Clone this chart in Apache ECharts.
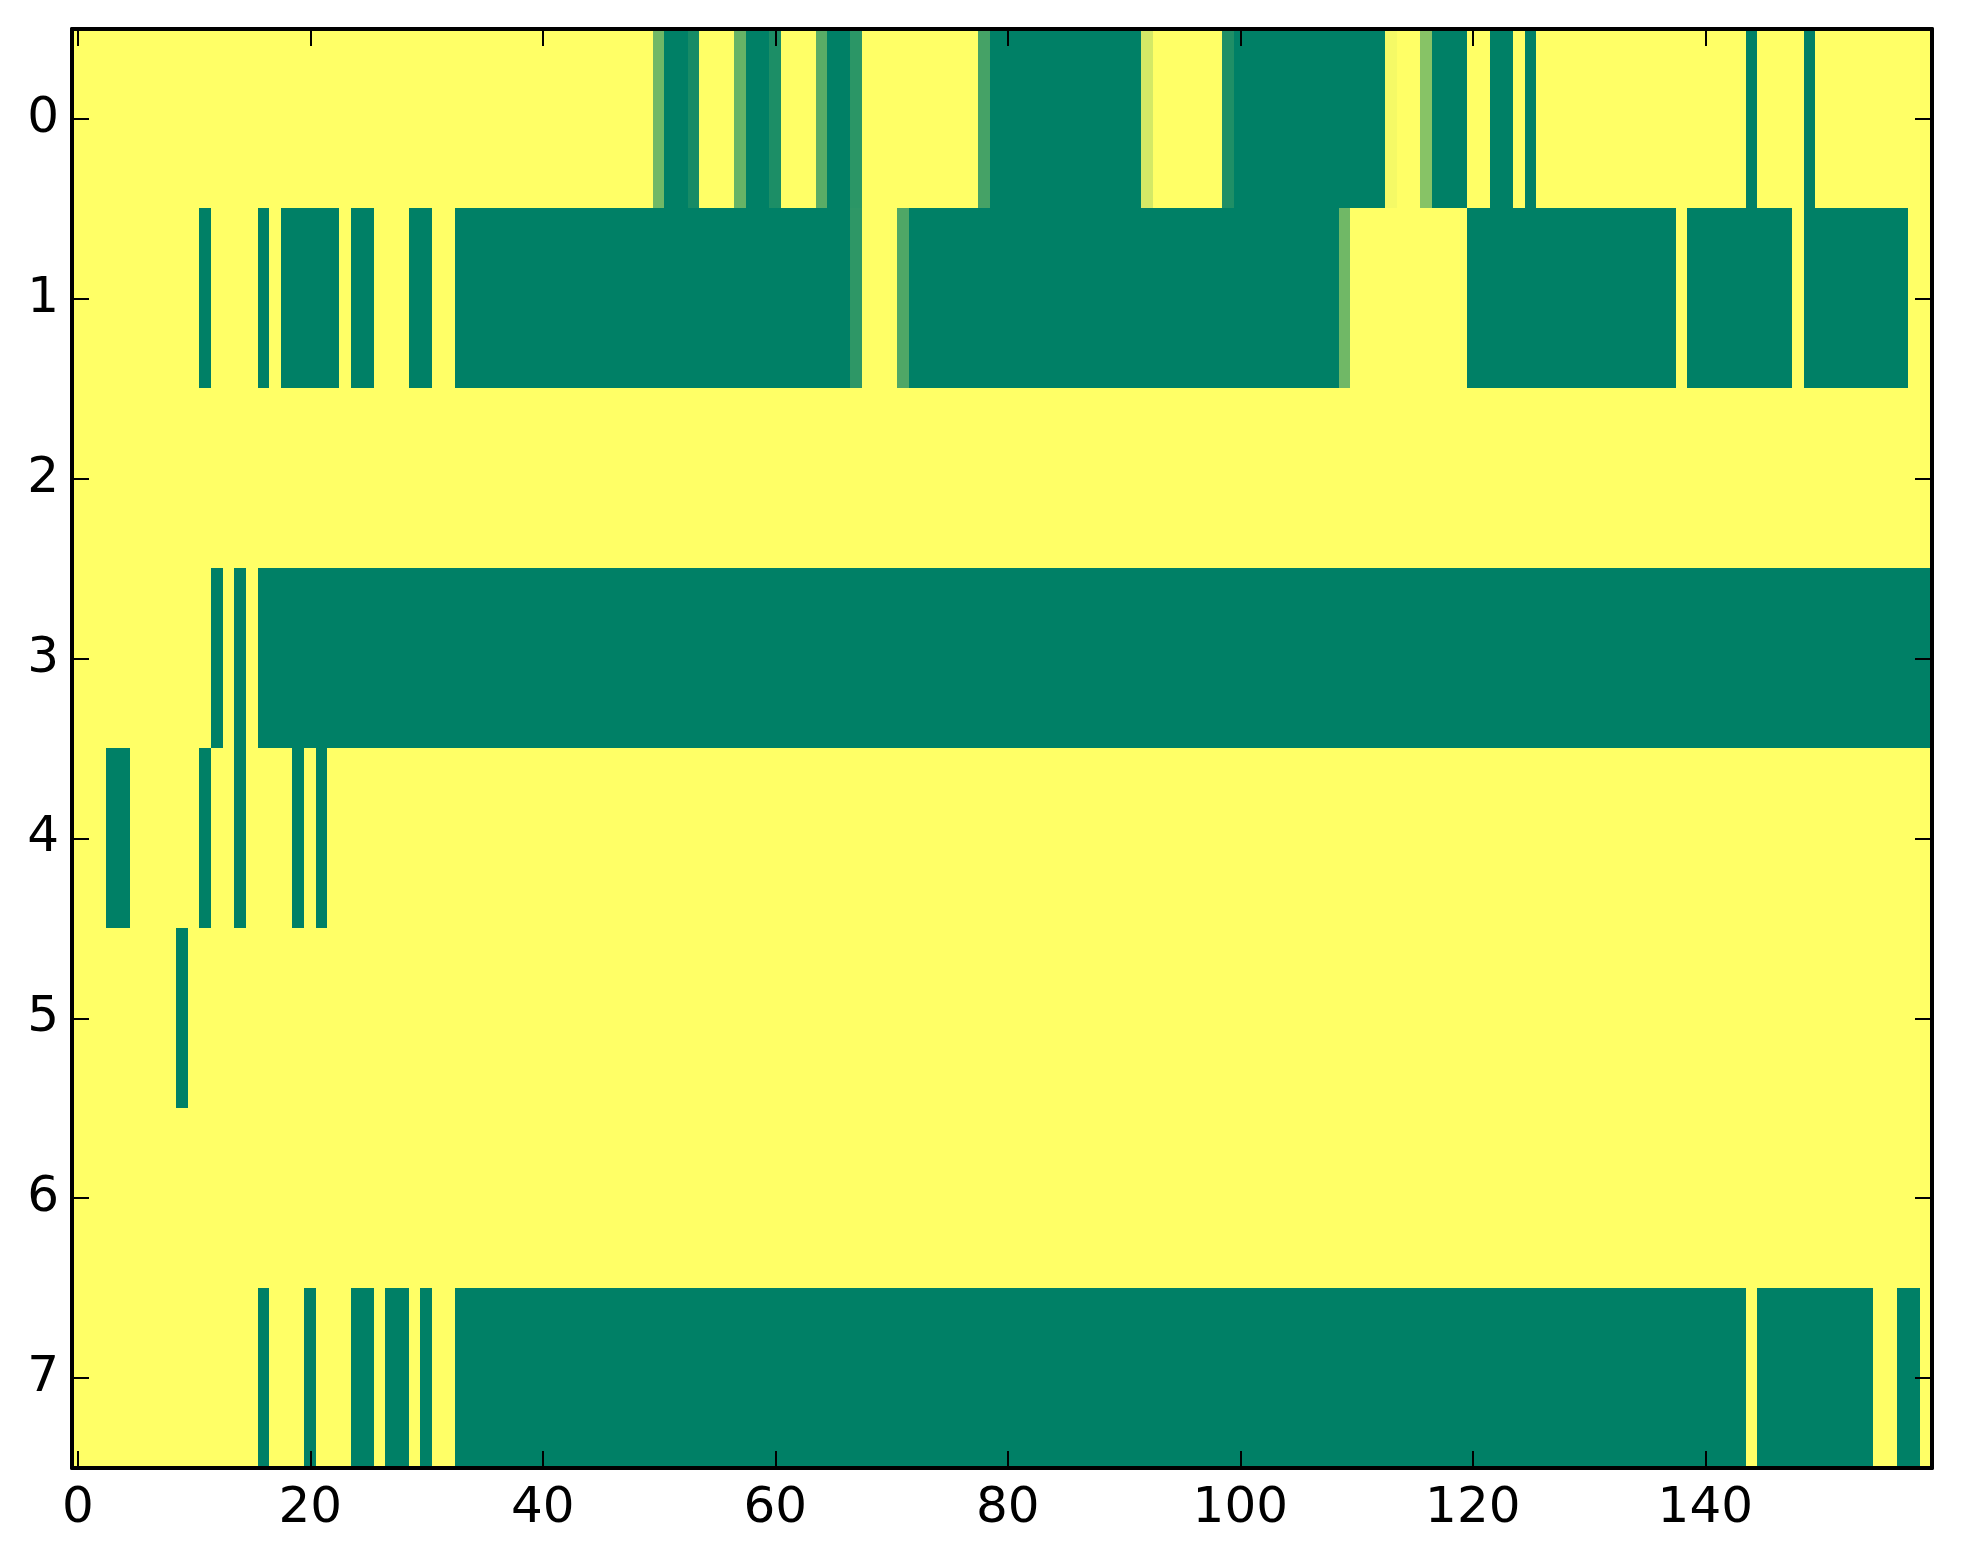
<!DOCTYPE html>
<html><head><meta charset="utf-8">
<script src="https://cdn.jsdelivr.net/npm/echarts@6/dist/echarts.min.js"></script>
<style>html,body{margin:0;padding:0;background:#fff}#c{width:1963px;height:1564px}</style>
</head><body><div id="c"></div>
<script>
// column indices 0..159 and row labels 0..7
const xCategories = Array.from({length: 160}, (_, i) => String(i));
const yCategories = ['0', '1', '2', '3', '4', '5', '6', '7'];

const row0 = [
  1,1,1,1,1,1,1,1,1,1,1,1,1,1,1,1,1,1,1,1,
  1,1,1,1,1,1,1,1,1,1,1,1,1,1,1,1,1,1,1,1,
  1,1,1,1,1,1,1,1,1,1,0.44,0,0,0.09,1,1,1,0.40,0,0,
  0.11,1,1,1,0.35,0,0,0.17,1,1,1,1,1,1,1,1,1,1,0.27,0,
  0,0,0,0,0,0,0,0,0,0,0,0,0.83,1,1,1,1,1,1,0.12,
  0,0,0,0,0,0,0,0,0,0,0,0,0,0.96,1,1,0.53,0,0,0,
  1,1,0,0,1,0,1,1,1,1,1,1,1,1,1,1,1,1,1,1,
  1,1,1,1,0,1,1,1,1,0,1,1,1,1,1,1,1,1,1,1
];
const row1 = [
  1,1,1,1,1,1,1,1,1,1,1,0,1,1,1,1,0,1,0,0,
  0,0,0,1,0,0,1,1,1,0,0,1,1,0,0,0,0,0,0,0,
  0,0,0,0,0,0,0,0,0,0,0,0,0,0,0,0,0,0,0,0,
  0,0,0,0,0,0,0,0.18,1,1,1,0.31,0,0,0,0,0,0,0,0,
  0,0,0,0,0,0,0,0,0,0,0,0,0,0,0,0,0,0,0,0,
  0,0,0,0,0,0,0,0,0,0.44,1,1,1,1,1,1,1,1,1,1,
  0,0,0,0,0,0,0,0,0,0,0,0,0,0,0,0,0,0,1,0,
  0,0,0,0,0,0,0,0,1,0,0,0,0,0,0,0,0,0,1,1
];
const row2 = [
  1,1,1,1,1,1,1,1,1,1,1,1,1,1,1,1,1,1,1,1,
  1,1,1,1,1,1,1,1,1,1,1,1,1,1,1,1,1,1,1,1,
  1,1,1,1,1,1,1,1,1,1,1,1,1,1,1,1,1,1,1,1,
  1,1,1,1,1,1,1,1,1,1,1,1,1,1,1,1,1,1,1,1,
  1,1,1,1,1,1,1,1,1,1,1,1,1,1,1,1,1,1,1,1,
  1,1,1,1,1,1,1,1,1,1,1,1,1,1,1,1,1,1,1,1,
  1,1,1,1,1,1,1,1,1,1,1,1,1,1,1,1,1,1,1,1,
  1,1,1,1,1,1,1,1,1,1,1,1,1,1,1,1,1,1,1,1
];
const row3 = [
  1,1,1,1,1,1,1,1,1,1,1,1,0,1,0,1,0,0,0,0,
  0,0,0,0,0,0,0,0,0,0,0,0,0,0,0,0,0,0,0,0,
  0,0,0,0,0,0,0,0,0,0,0,0,0,0,0,0,0,0,0,0,
  0,0,0,0,0,0,0,0,0,0,0,0,0,0,0,0,0,0,0,0,
  0,0,0,0,0,0,0,0,0,0,0,0,0,0,0,0,0,0,0,0,
  0,0,0,0,0,0,0,0,0,0,0,0,0,0,0,0,0,0,0,0,
  0,0,0,0,0,0,0,0,0,0,0,0,0,0,0,0,0,0,0,0,
  0,0,0,0,0,0,0,0,0,0,0,0,0,0,0,0,0,0,0,0
];
const row4 = [
  1,1,1,0,0,1,1,1,1,1,1,0,1,1,0,1,1,1,1,0,
  1,0,1,1,1,1,1,1,1,1,1,1,1,1,1,1,1,1,1,1,
  1,1,1,1,1,1,1,1,1,1,1,1,1,1,1,1,1,1,1,1,
  1,1,1,1,1,1,1,1,1,1,1,1,1,1,1,1,1,1,1,1,
  1,1,1,1,1,1,1,1,1,1,1,1,1,1,1,1,1,1,1,1,
  1,1,1,1,1,1,1,1,1,1,1,1,1,1,1,1,1,1,1,1,
  1,1,1,1,1,1,1,1,1,1,1,1,1,1,1,1,1,1,1,1,
  1,1,1,1,1,1,1,1,1,1,1,1,1,1,1,1,1,1,1,1
];
const row5 = [
  1,1,1,1,1,1,1,1,1,0,1,1,1,1,1,1,1,1,1,1,
  1,1,1,1,1,1,1,1,1,1,1,1,1,1,1,1,1,1,1,1,
  1,1,1,1,1,1,1,1,1,1,1,1,1,1,1,1,1,1,1,1,
  1,1,1,1,1,1,1,1,1,1,1,1,1,1,1,1,1,1,1,1,
  1,1,1,1,1,1,1,1,1,1,1,1,1,1,1,1,1,1,1,1,
  1,1,1,1,1,1,1,1,1,1,1,1,1,1,1,1,1,1,1,1,
  1,1,1,1,1,1,1,1,1,1,1,1,1,1,1,1,1,1,1,1,
  1,1,1,1,1,1,1,1,1,1,1,1,1,1,1,1,1,1,1,1
];
const row6 = [
  1,1,1,1,1,1,1,1,1,1,1,1,1,1,1,1,1,1,1,1,
  1,1,1,1,1,1,1,1,1,1,1,1,1,1,1,1,1,1,1,1,
  1,1,1,1,1,1,1,1,1,1,1,1,1,1,1,1,1,1,1,1,
  1,1,1,1,1,1,1,1,1,1,1,1,1,1,1,1,1,1,1,1,
  1,1,1,1,1,1,1,1,1,1,1,1,1,1,1,1,1,1,1,1,
  1,1,1,1,1,1,1,1,1,1,1,1,1,1,1,1,1,1,1,1,
  1,1,1,1,1,1,1,1,1,1,1,1,1,1,1,1,1,1,1,1,
  1,1,1,1,1,1,1,1,1,1,1,1,1,1,1,1,1,1,1,1
];
const row7 = [
  1,1,1,1,1,1,1,1,1,1,1,1,1,1,1,1,0,1,1,1,
  0,1,1,1,0,0,1,0,0,1,0,1,1,0,0,0,0,0,0,0,
  0,0,0,0,0,0,0,0,0,0,0,0,0,0,0,0,0,0,0,0,
  0,0,0,0,0,0,0,0,0,0,0,0,0,0,0,0,0,0,0,0,
  0,0,0,0,0,0,0,0,0,0,0,0,0,0,0,0,0,0,0,0,
  0,0,0,0,0,0,0,0,0,0,0,0,0,0,0,0,0,0,0,0,
  0,0,0,0,0,0,0,0,0,0,0,0,0,0,0,0,0,0,0,0,
  0,0,0,0,1,0,0,0,0,0,0,0,0,0,0,1,1,0,0,1
];
const rows = [row0, row1, row2, row3, row4, row5, row6, row7];

const cells = [];
rows.forEach((row, r) => row.forEach((v, c) => cells.push([c, r, v])));

const FONT = 'DejaVu Sans';
const labelStyle = {fontFamily: FONT, fontSize: 50, color: '#000'};
const lineStyle = {color: '#000', width: 4};
const tickStyle = {color: '#000', width: 2};

function mkTick(interval) {
  return {show: true, inside: true, length: 17, alignWithLabel: true, interval: interval,
          lineStyle: {color: '#000', width: 2}};
}

const chart = echarts.init(document.getElementById('c'), null, {renderer: 'canvas'});
chart.setOption({
  animation: false,
  backgroundColor: '#fff',
  grid: {left: 72, top: 29, width: 1860, height: 1439},
  xAxis: [
    {type: 'category', data: xCategories, position: 'bottom', zlevel: 1, z: 10,
     axisLine: {lineStyle: lineStyle},
     axisTick: mkTick(19),
     axisLabel: Object.assign({interval: 19, margin: 16}, labelStyle),
     splitLine: {show: false}},
    {type: 'category', data: xCategories, position: 'top', zlevel: 1, z: 10,
     axisLine: {lineStyle: lineStyle},
     axisTick: mkTick(19),
     axisLabel: {show: false, interval: 19}, splitLine: {show: false}}
  ],
  yAxis: [
    {type: 'category', data: yCategories, inverse: true, position: 'left', zlevel: 1, z: 10,
     axisLine: {lineStyle: lineStyle},
     axisTick: mkTick(0),
     axisLabel: Object.assign({interval: 0, margin: 13}, labelStyle),
     splitLine: {show: false}},
    {type: 'category', data: yCategories, inverse: true, position: 'right', zlevel: 1, z: 10,
     axisLine: {lineStyle: lineStyle},
     axisTick: mkTick(0),
     axisLabel: {show: false, interval: 0}, splitLine: {show: false}}
  ],
  visualMap: {show: false, type: 'continuous', min: 0, max: 1, dimension: 2,
              inRange: {color: ['#008066', '#ffff66']}},
  series: [{
    type: 'custom', xAxisIndex: 0, yAxisIndex: 0, data: cells, z: 1,
    encode: {x: 0, y: 1},
    renderItem: function (params, api) {
      const p = api.coord([api.value(0), api.value(1)]);
      const s = api.size([1, 1]);
      const x0 = Math.floor(p[0] - s[0] / 2);
      const y0 = Math.floor(p[1] - s[1] / 2);
      const x1 = Math.ceil(p[0] + s[0] / 2);
      const y1 = Math.ceil(p[1] + s[1] / 2);
      return {
        type: 'rect',
        shape: {x: x0, y: y0, width: x1 - x0, height: y1 - y0},
        style: {fill: api.visual('color'), stroke: null}
      };
    }
  }]
});
</script></body></html>
